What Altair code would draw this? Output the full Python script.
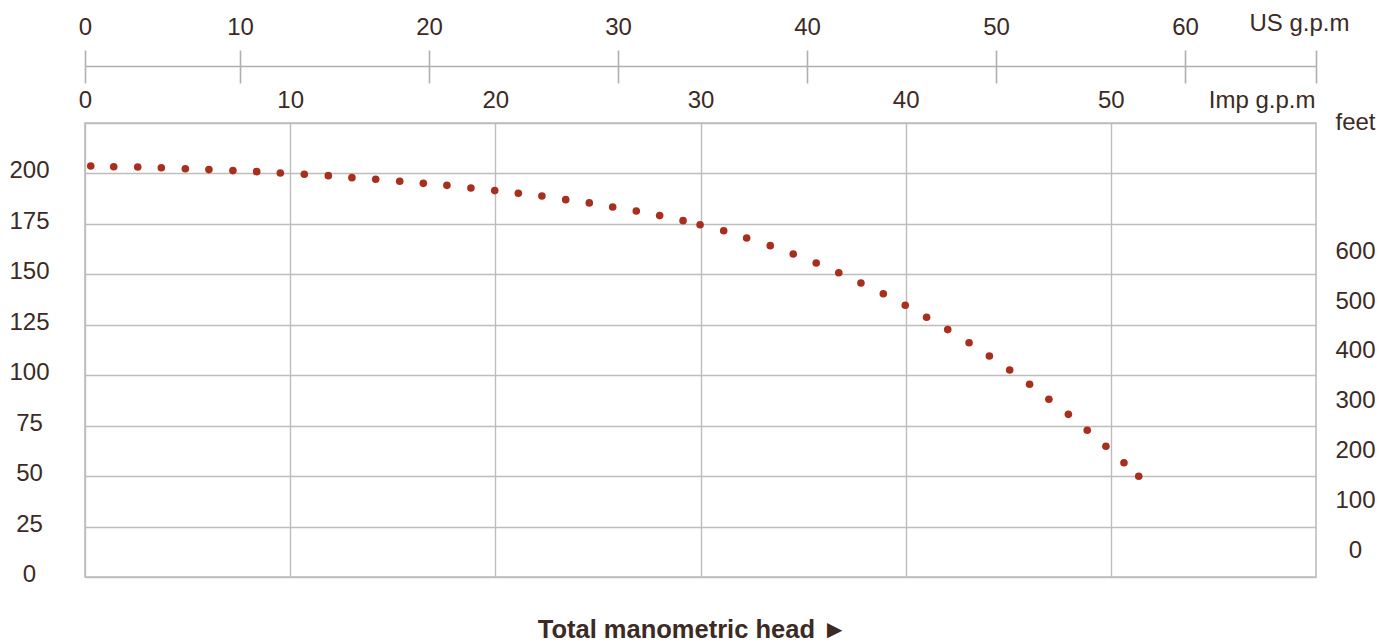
import altair as alt
import pandas as pd

# ---- data ----
imp_gpm = [0.28, 1.40, 2.57, 3.72, 4.89, 6.04, 7.21, 8.37, 9.52, 10.69, 11.86, 13.01,
           14.17, 15.34, 16.49, 17.64, 18.81, 19.97, 21.12, 22.27, 23.43, 24.58, 25.72,
           26.87, 28.01, 29.15, 29.98, 31.13, 32.25, 33.40, 34.52, 35.64, 36.74, 37.82,
           38.91, 39.98, 41.02, 42.05, 43.09, 44.08, 45.07, 46.04, 46.98, 47.93, 48.85,
           49.76, 50.64, 51.36]
head = [203.7, 203.3, 203.2, 202.8, 202.3, 201.9, 201.4, 200.9, 200.2, 199.6, 198.9, 197.9,
        197.1, 196.1, 195.1, 194.1, 192.8, 191.5, 190.2, 188.8, 187.0, 185.4, 183.4,
        181.4, 179.1, 176.6, 174.6, 171.6, 168.0, 164.2, 160.1, 155.6, 150.8, 145.7,
        140.4, 134.7, 128.7, 122.6, 116.1, 109.5, 102.6, 95.5, 88.1, 80.6, 72.7,
        64.8, 56.6, 49.9]

imp_ticks = [0, 10, 20, 30, 40, 50]
imp_domain = [0, 60]
us_ticks = [1.8, 10, 20, 30, 40, 50, 60, 66.93]   # as drawn (first is labelled 0, last unlabelled)
us_domain = [1.8, 66.93]
left_ticks = [0, 25, 50, 75, 100, 125, 150, 175, 200, 225]
left_domain = [0, 225]
feet_ticks = [0, 100, 200, 300, 400, 500, 600]
feet_domain = [-50, 862]

DOT = "#a82f1d"
TXT = "#3c2a25"
GRID = "#bdbdbd"
FONT = "Liberation Sans"
FS = 24

dots = alt.Chart(pd.DataFrame({"imp": imp_gpm, "head": head})).mark_circle(
    size=58, color=DOT, opacity=1
).encode(
    x=alt.X("imp:Q", scale=alt.Scale(domain=imp_domain, nice=False, zero=False),
            axis=alt.Axis(orient="top", values=imp_ticks, grid=True, ticks=False, tickSize=0,
                          domain=False, labelFlush=False, labelPadding=16,
                          labelBaseline="alphabetic", format="d",
                          title="Imp g.p.m", titleX=1230, titleY=-16, titleAlign="right",
                          titleBaseline="alphabetic", titleAngle=0)),
    y=alt.Y("head:Q", scale=alt.Scale(domain=left_domain, nice=False, zero=False),
            axis=alt.Axis(orient="left", values=left_ticks, grid=True, ticks=False, tickSize=0,
                          domain=False, labelAlign="center", labelPadding=56,
                          labelBaseline="middle", labelOffset=-2.5,
                          labelExpr="datum.value > 210 ? '' : datum.label", title=None)),
)

us_axis = alt.Chart(pd.DataFrame({"us": us_ticks})).mark_point(opacity=0).encode(
    x=alt.X("us:Q", scale=alt.Scale(domain=us_domain, nice=False, zero=False),
            axis=alt.Axis(orient="top", offset=57, values=us_ticks, grid=False, ticks=True,
                          tickSize=16, domain=True, labelFlush=False, labelPadding=16,
                          labelBaseline="alphabetic",
                          labelExpr="datum.value < 5 ? '0' : (datum.value > 65 ? '' : format(datum.value, 'd'))",
                          title="US g.p.m", titleX=1264, titleY=-36, titleAlign="right",
                          titleBaseline="alphabetic", titleAngle=0)),
)

us_lower_ticks = alt.Chart(pd.DataFrame({"us": us_ticks})).mark_point(opacity=0).encode(
    x=alt.X("us:Q", scale=alt.Scale(domain=us_domain, nice=False, zero=False),
            axis=alt.Axis(orient="top", offset=40, values=us_ticks, grid=False, ticks=True,
                          tickSize=17, domain=False, labels=False, title=None)),
)

feet_axis = alt.Chart(pd.DataFrame({"feet": feet_ticks})).mark_point(opacity=0).encode(
    y=alt.Y("feet:Q", scale=alt.Scale(domain=feet_domain, nice=False, zero=False),
            axis=alt.Axis(orient="right", values=feet_ticks, grid=False, ticks=False, tickSize=0,
                          domain=False, labelAlign="center", labelPadding=39,
                          labelBaseline="middle", labelOffset=-2, format="d",
                          title="feet", titleX=39, titleY=6, titleAlign="center",
                          titleBaseline="alphabetic", titleAngle=0)),
)

chart = alt.layer(dots, us_axis, us_lower_ticks, feet_axis).resolve_scale(
    x="independent", y="independent"
).resolve_axis(
    x="independent", y="independent"
).properties(
    width=1231, height=454,
    autosize=alt.AutoSizeParams(type="none"),
    padding={"left": 77, "top": 115, "right": 67, "bottom": 65},
    title=alt.TitleParams("Total manometric head  \u25BA", orient="bottom", anchor="middle",
                          frame="group", dx=-8, offset=51, fontSize=25.5, fontWeight="bold",
                          font=FONT, color=TXT, baseline="alphabetic"),
).configure_axis(
    labelFont=FONT, labelFontSize=FS, labelColor=TXT, titleFont=FONT, titleFontSize=FS,
    titleColor=TXT, titleFontWeight="normal", gridColor=GRID, gridWidth=1.4, gridOpacity=1,
    tickColor="#b0b0b0", tickWidth=1.6, domainColor="#b0b0b0", domainWidth=1.6,
).configure_view(
    stroke=GRID, strokeWidth=1.6
)

chart.save("out.html", embed_options={"renderer": "svg", "actions": False})
